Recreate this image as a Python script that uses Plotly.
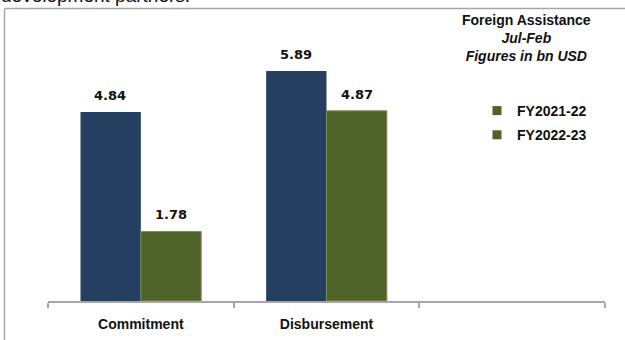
import plotly.graph_objects as go

categories = ["Commitment", "Disbursement", " "]
series_names = ["FY2021-22", "FY2022-23"]
fy2021_22 = [4.84, 5.89]
fy2022_23 = [1.78, 4.87]
bar_colors = ["#243F60", "#4F6228"]
legend_color = "#4F6228"

W, H = 625, 340
L, R, T, B = 48, 20, 27, 39
pw, ph = W - L - R, H - T - B
px_per_unit = 39.05
ymax = ph / px_per_unit

def px(x):
    return (x - L) / pw

def py(y):
    return (H - B - y) / ph

fig = go.Figure()
for name, vals, col in zip(series_names, [fy2021_22, fy2022_23], bar_colors):
    fig.add_trace(go.Bar(
        x=categories[:len(vals)], y=vals, name=name,
        marker=dict(color=col, line=dict(width=1 if col == "#4F6228" else 0, color="#7E8E5C")),
        showlegend=False,
    ))
# legend entries (both shown in olive in the original)
for name in series_names:
    fig.add_trace(go.Scatter(
        x=[None], y=[None], mode="markers", name=name, legendgroup=name,
        marker=dict(symbol="square", size=9, color=legend_color),
    ))

bar_w = 61
annots = []
for i, vals in enumerate([fy2021_22, fy2022_23]):
    shift = (-0.5 + i) * bar_w
    for c, v in zip(categories, vals):
        annots.append(dict(
            x=c, y=v, xref="x", yref="y", text=f"<b>{v:.2f}</b>", showarrow=False,
            xshift=shift, yanchor="bottom", yshift=7,
            font=dict(family="DejaVu Sans", size=13, color="#111111"),
        ))
annots.append(dict(
    x=px(526), y=py(38), xref="paper", yref="paper", xanchor="center", yanchor="middle",
    text="<b>Foreign Assistance</b><br><b><i>Jul-Feb</i></b><br><b><i>Figures in bn USD</i></b>",
    showarrow=False, font=dict(family="Liberation Sans", size=14, color="#111111"),
))
annots.append(dict(
    x=px(-1), y=py(8), xref="paper", yref="paper", xanchor="left", yanchor="bottom",
    text="development partners.", showarrow=False,
    font=dict(family="Liberation Sans", size=19, color="#111111"),
))

shapes = [
    dict(type="line", xref="paper", yref="paper", x0=px(4.5), x1=px(4.5), y0=py(8.5), y1=py(H + 5),
         line=dict(color="#A6A6A6", width=1.5)),
    dict(type="line", xref="paper", yref="paper", x0=px(4.5), x1=px(W + 5), y0=py(8.5), y1=py(8.5),
         line=dict(color="#A6A6A6", width=1.5)),
]

fig.update_layout(
    width=W, height=H,
    margin=dict(l=L, r=R, t=T, b=B),
    paper_bgcolor="white", plot_bgcolor="white",
    barmode="group", bargap=0.35, bargroupgap=0,
    annotations=annots, shapes=shapes,
    showlegend=True,
    legend=dict(x=px(477), y=py(95), xanchor="left", yanchor="top",
                font=dict(family="Liberation Sans", size=14, color="#111111", weight="bold"),
                bgcolor="rgba(0,0,0,0)", tracegroupgap=3, itemsizing="trace"),
    font=dict(family="Liberation Sans"),
)
fig.update_xaxes(
    type="category", categoryorder="array", categoryarray=categories,
    range=[-0.5, 2.5], showline=True, linecolor="#A6A6A6", linewidth=1.5,
    ticks="outside", tickson="boundaries", ticklen=5, tickcolor="#A6A6A6", tickwidth=1.5,
    tickfont=dict(family="Liberation Sans", size=14, color="#111111", weight="bold"),
    ticklabelstandoff=9, automargin=False, showgrid=False, zeroline=False,
)
fig.update_yaxes(range=[0, ymax], visible=False, showgrid=False, zeroline=False, automargin=False)
fig.write_html("out.html")
